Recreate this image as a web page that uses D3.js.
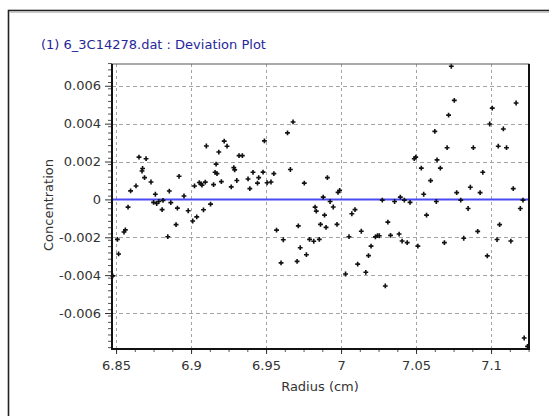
<!DOCTYPE html>
<html>
<head>
<meta charset="utf-8">
<script src="https://cdn.jsdelivr.net/npm/d3@7"></script>
<style>
  body { margin: 0; background: #fff; }
  text { font-family: "DejaVu Sans", sans-serif; }
</style>
</head>
<body>
<div id="chart"></div>
<script>
// radius (cm) and concentration deviation
const radius = [
  6.8478, 6.8509, 6.8517, 6.8553, 6.8562, 6.8580, 6.8597, 6.8633, 6.8653, 6.8673,
  6.8677, 6.8690, 6.8700, 6.8733, 6.8750, 6.8762, 6.8771, 6.8785, 6.8807, 6.8813,
  6.8845, 6.8855, 6.8865, 6.8900, 6.8909, 6.8920, 6.8953, 6.8981, 6.9011, 6.9023,
  6.9038, 6.9055, 6.9067, 6.9073, 6.9083, 6.9095, 6.9102, 6.9130, 6.9150, 6.9160,
  6.9167, 6.9173, 6.9185, 6.9202, 6.9221, 6.9240, 6.9268, 6.9285, 6.9291, 6.9305,
  6.9320, 6.9342, 6.9380, 6.9392, 6.9413, 6.9443, 6.9451, 6.9480, 6.9489, 6.9507,
  6.9533, 6.9552, 6.9570, 6.9600, 6.9615, 6.9643, 6.9662, 6.9680, 6.9707, 6.9715,
  6.9728, 6.9755, 6.9769, 6.9790, 6.9818, 6.9827, 6.9835, 6.9855, 6.9863, 6.9881,
  6.9890, 6.9900, 6.9909, 6.9927, 6.9948, 6.9973, 6.9980, 6.9991, 7.0030, 7.0053,
  7.0072, 7.0093, 7.0111, 7.0135, 7.0165, 7.0183, 7.0200, 7.0229, 7.0243, 7.0255,
  7.0275, 7.0295, 7.0312, 7.0330, 7.0357, 7.0387, 7.0395, 7.0407, 7.0422, 7.0441,
  7.0460, 7.0488, 7.0498, 7.0512, 7.0535, 7.0551, 7.0570, 7.0597, 7.0625, 7.0635,
  7.0640, 7.0662, 7.0689, 7.0707, 7.0717, 7.0735, 7.0755, 7.0771, 7.0798, 7.0818,
  7.0847, 7.0862, 7.0882, 7.0911, 7.0927, 7.0945, 7.0975, 7.0991, 7.1008, 7.1040,
  7.1048, 7.1057, 7.1082, 7.1103, 7.1132, 7.1148, 7.1167, 7.1195, 7.1213, 7.1221,
  7.1243
];
const deviation = [
  -0.00404, -0.00211, -0.00288, -0.00172, -0.00161, -0.00041, 0.00045, 0.00071, 0.00223, 0.00150,
  0.00163, 0.00115, 0.00215, 0.00092, -0.00016, 0.00027, -0.00022, -0.00011, -0.00054, -0.00005,
  -0.00197, 0.00044, -0.00017, -0.00133, -0.00046, 0.00122, 0.00018, -0.00060, -0.00114, 0.00071,
  -0.00092, 0.00089, 0.00082, 0.00075, -0.00055, 0.00091, 0.00282, -0.00025, 0.00078, 0.00143,
  0.00186, 0.00136, 0.00250, 0.00094, 0.00308, 0.00281, 0.00066, 0.00168, 0.00156, 0.00100,
  0.00231, 0.00231, 0.00108, 0.00057, 0.00143, 0.00086, 0.00115, 0.00144, 0.00309, 0.00088,
  0.00092, 0.00136, -0.00162, -0.00335, -0.00213, 0.00351, 0.00158, 0.00409, -0.00327, -0.00140,
  -0.00255, 0.00086, -0.00292, -0.00211, -0.00221, -0.00041, -0.00062, -0.00211, -0.00132, 0.00012,
  -0.00083, -0.00148, 0.00115, -0.00011, -0.00040, -0.00132, 0.00037, 0.00048, -0.00394, -0.00197,
  -0.00076, -0.00054, -0.00342, -0.00168, -0.00385, -0.00297, -0.00247, -0.00198, -0.00191, -0.00192,
  -0.00004, -0.00457, -0.00120, -0.00190, -0.00011, -0.00183, 0.00012, -0.00220, -0.00004, -0.00228,
  -0.00016, 0.00215, 0.00223, -0.00247, 0.00165, 0.00027, -0.00083, 0.00099, 0.00359, -0.00011,
  0.00209, 0.00165, -0.00228, 0.00273, 0.00445, 0.00703, 0.00523, 0.00036, -0.00004, -0.00205,
  -0.00048, 0.00064, 0.00273, -0.00169, 0.00036, 0.00143, -0.00298, 0.00398, 0.00482, -0.00212,
  0.00281, -0.00133, 0.00372, 0.00273, -0.00220, 0.00057, 0.00509, -0.00048, -0.00004, -0.00732,
  -0.00776
];
const xTicks = [6.85, 6.9, 6.95, 7, 7.05, 7.1];
const yTicks = [-0.006, -0.004, -0.002, 0, 0.002, 0.004, 0.006];
const xDomain = [6.8473, 7.1253];
const yDomain = [-0.0079, 0.00715];
const titleText = "(1) 6_3C14278.dat : Deviation Plot";

const W = 549, H = 416
, plotLeft = 112, plotRight = 529, plotTop = 64, plotBottom = 349
, gridColor = "#a4a4a4"
, textColor = "#333";

const svg = d3.select("#chart").append("svg")
  .attr("width", W)
  .attr("height", H);

// outer window frame
svg.append("rect")
  .attr("x", 8.5).attr("y", 10.5)
  .attr("width", 560).attr("height", 420)
  .style("fill", "#fff")
  .style("stroke", "#222")
  .style("stroke-width", 1.6);
svg.append("line")
  .attr("x1", 10).attr("x2", W).attr("y1", 12.5).attr("y2", 12.5)
  .style("stroke", "#c8c8c8");

svg.append("text")
  .attr("x", 41).attr("y", 49)
  .text(titleText)
  .style("font-size", "13px")
  .style("fill", "#26269a");

const x = d3.scaleLinear().domain(xDomain).range([plotLeft, plotRight]);
const y = d3.scaleLinear().domain(yDomain).range([plotBottom, plotTop]);

// dashed grid
svg.append("g").selectAll("line")
  .data(yTicks)
  .enter().append("line")
  .attr("x1", plotLeft).attr("x2", plotRight)
  .attr("y1", d => Math.round(y(d)) + 0.5)
  .attr("y2", d => Math.round(y(d)) + 0.5)
  .style("stroke", gridColor)
  .style("stroke-dasharray", "4,3");
svg.append("g").selectAll("line")
  .data(xTicks)
  .enter().append("line")
  .attr("y1", plotTop).attr("y2", plotBottom)
  .attr("x1", d => Math.round(x(d)) + 0.5)
  .attr("x2", d => Math.round(x(d)) + 0.5)
  .style("stroke", gridColor)
  .style("stroke-dasharray", "3,3");

// zero line
svg.append("line")
  .attr("x1", plotLeft).attr("x2", plotRight)
  .attr("y1", y(0)).attr("y2", y(0))
  .style("stroke", "#4b4bf5")
  .style("stroke-width", 2);

// points
svg.append("g").selectAll("path")
  .data(radius.map((r, i) => [r, deviation[i]]))
  .enter().append("path")
  .attr("transform", d => `translate(${x(d[0])},${y(d[1])})`)
  .attr("d", d3.symbol().type(d3.symbolCross).size(13))
  .style("fill", "#111");

// minor ticks
const yMinor = [];
for (let v = -0.0078; v < 0.0072; v += 0.002 / 6) yMinor.push(v);
const xMinor = [];
for (let v = 6.85; v < 7.126; v += 0.0125) xMinor.push(v);

const yAxisMinor = svg.append("g")
  .attr("transform", `translate(${plotLeft},0)`)
  .call(d3.axisLeft(y).tickValues(yMinor.filter(v => v >= yDomain[0])).tickSize(4).tickFormat(""));
const xAxisMinor = svg.append("g")
  .attr("transform", `translate(0,${plotBottom})`)
  .call(d3.axisBottom(x).tickValues(xMinor).tickSize(3).tickFormat(""));
[yAxisMinor, xAxisMinor].forEach(g => {
  g.select(".domain").remove();
  g.selectAll("line").style("stroke", "#555");
});

const yAxis = svg.append("g")
  .attr("transform", `translate(${plotLeft},0)`)
  .call(d3.axisLeft(y).tickValues(yTicks).tickSize(7).tickPadding(4).tickFormat(d => String(d)));
const xAxis = svg.append("g")
  .attr("transform", `translate(0,${plotBottom})`)
  .call(d3.axisBottom(x).tickValues(xTicks).tickSize(5).tickPadding(7).tickFormat(d => String(d)));
[yAxis, xAxis].forEach(g => {
  g.select(".domain").remove();
  g.selectAll("line").style("stroke", "#333");
  g.selectAll("text")
    .style("font-size", "13px")
    .style("font-family", "'DejaVu Sans', sans-serif")
    .style("fill", textColor);
});

// plot frame
svg.append("rect")
  .attr("x", plotLeft).attr("y", plotTop)
  .attr("width", plotRight - plotLeft).attr("height", plotBottom - plotTop)
  .style("fill", "none")
  .style("stroke", "#555")
  .style("stroke-width", 1);
svg.append("path")
  .attr("d", `M${plotLeft},${plotTop}V${plotBottom}H${plotRight}V${plotTop}`)
  .style("fill", "none")
  .style("stroke", "#111")
  .style("stroke-width", 2);

svg.append("text")
  .attr("transform", `translate(53,205) rotate(-90)`)
  .attr("text-anchor", "middle")
  .text("Concentration")
  .style("font-size", "13px")
  .style("fill", textColor);

svg.append("text")
  .attr("x", 320).attr("y", 391)
  .attr("text-anchor", "middle")
  .text("Radius (cm)")
  .style("font-size", "13px")
  .style("fill", textColor);
</script>
</body>
</html>
